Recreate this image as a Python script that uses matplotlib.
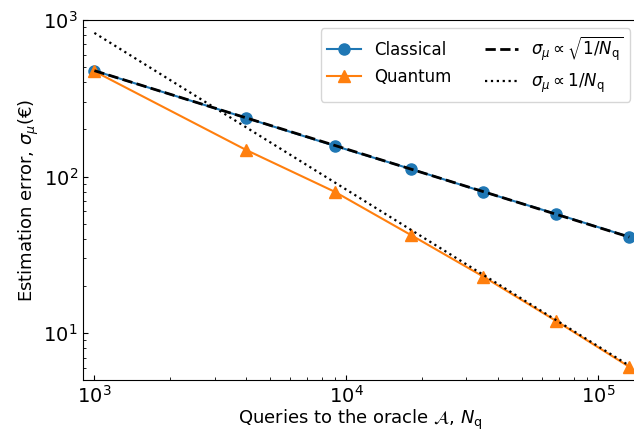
import matplotlib
matplotlib.use("Agg")
import matplotlib.pyplot as plt
import numpy as np

# number of oracle queries
n_queries = [1000, 4000, 9000, 18000, 35000, 68000, 133000]
# estimation errors
err_classical = [474, 237, 157, 112, 80, 57.8, 41.2]
err_quantum = [470, 148, 80, 42.5, 23, 12, 6.1]
# reference scaling prefactors
coef_sqrt = 1.5e4
coef_lin = 8.26e5

fig = plt.figure(figsize=(6.34, 4.33), dpi=100)
ax = fig.add_axes([0.1305, 0.1224, 0.877, 0.8316])

N = np.array(n_queries, dtype=float)
l1, = ax.plot(N, err_classical, 'o-', color='C0', lw=1.5, ms=8, label='Classical')
l2, = ax.plot(N, err_quantum, '^-', color='C1', lw=1.5, ms=8, label='Quantum')
l3, = ax.plot(N, coef_sqrt / np.sqrt(N), 'k--', lw=2,
              label=r'$\sigma_\mu \propto \sqrt{1/N_\mathrm{q}}$')
l4, = ax.plot(N, coef_lin / N, 'k:', lw=1.6,
              label=r'$\sigma_\mu \propto 1/N_\mathrm{q}$')

ax.set_xscale('log')
ax.set_yscale('log')
ax.set_xlim(899, 1.45e5)
ax.set_ylim(5.03, 1000)
ax.tick_params(which='both', direction='in', labelsize=14)
ax.set_xlabel(r'Queries to the oracle $\mathcal{A}$, $N_\mathrm{q}$', fontsize=13, labelpad=1)
ax.set_ylabel(r'Estimation error, $\sigma_\mu$(€)', fontsize=13, labelpad=2)

ax.legend(handles=[l1, l2, l3, l4], ncol=2, loc='upper right', fontsize=12)

fig.savefig('out.png', dpi=100)
